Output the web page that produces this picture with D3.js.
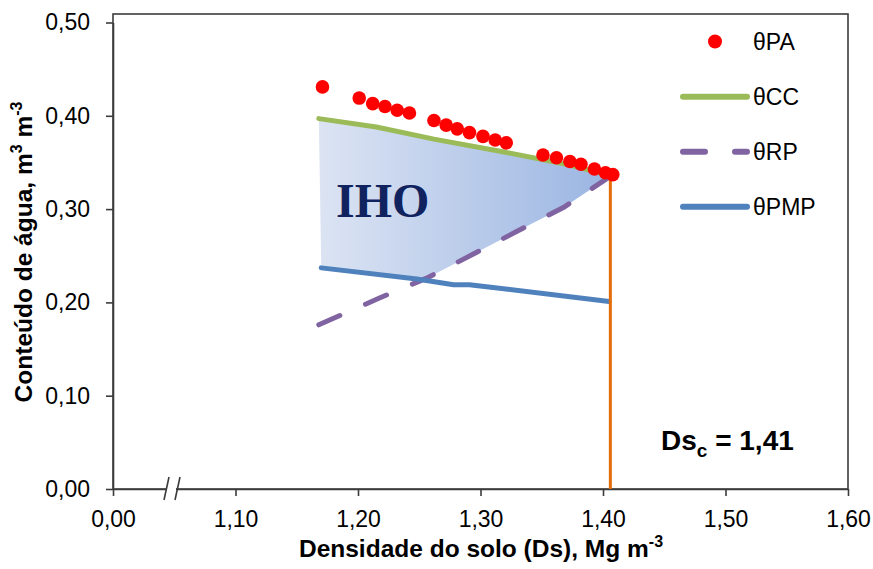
<!DOCTYPE html>
<html>
<head>
<meta charset="utf-8">
<script src="https://cdn.jsdelivr.net/npm/d3@7"></script>
<style>
  html, body { margin: 0; padding: 0; background: #fff; }
  svg { display: block; font-family: "Liberation Sans", Arial, sans-serif; }
</style>
</head>
<body>
<svg id="chart" width="873" height="569"></svg>
<script>
// Soil bulk density (Mg m-3) vs. volumetric water content (m3 m-3)
const paDs  = [1.171, 1.201, 1.212, 1.222, 1.232, 1.242, 1.262, 1.272, 1.281, 1.291, 1.302, 1.312, 1.321, 1.351, 1.362, 1.373, 1.382, 1.393, 1.402, 1.408];
const paVal = [0.431, 0.419, 0.413, 0.410, 0.406, 0.403, 0.395, 0.390, 0.386, 0.382, 0.378, 0.374, 0.371, 0.358, 0.355, 0.351, 0.348, 0.343, 0.339, 0.337];

const ccDs  = [1.168, 1.215, 1.262, 1.316, 1.370, 1.407];
const ccVal = [0.397, 0.388, 0.375, 0.362, 0.348, 0.336];

const rpDs  = [1.168, 1.218, 1.256, 1.293, 1.331, 1.368, 1.408];
const rpVal = [0.176, 0.205, 0.226, 0.251, 0.277, 0.302, 0.337];

const pmpDs  = [1.170, 1.248, 1.278, 1.291, 1.405];
const pmpVal = [0.237, 0.225, 0.219, 0.219, 0.201];

// critical bulk density
const dsc = 1.406;

const xTicks = [1.0, 1.1, 1.2, 1.3, 1.4, 1.5, 1.6];
const xTickLabels = ["0,00", "1,10", "1,20", "1,30", "1,40", "1,50", "1,60"];
const yTicks = [0, 0.1, 0.2, 0.3, 0.4, 0.5];
const yTickLabels = ["0,00", "0,10", "0,20", "0,30", "0,40", "0,50"];

const legendNames = ["θPA", "θCC", "θRP", "θPMP"];

const colors = { pa: "#ff0000", cc: "#9bbb59", rp: "#8064a2", pmp: "#4f81bd", dsc: "#e46c0a" };

const svg = d3.select("#chart");
const plot = { left: 113, right: 848, top: 14, bottom: 489 };

const x = d3.scaleLinear().domain([1.0, 1.6]).range([plot.left, plot.right]);
const y = d3.scaleLinear().domain([0, 0.5]).range([plot.bottom, 22.5]);

const zip = (a, b) => a.map((v, i) => [v, b[i]]);
const cc = zip(ccDs, ccVal), rp = zip(rpDs, rpVal), pmp = zip(pmpDs, pmpVal), pa = zip(paDs, paVal);

// interpolate a polyline at a given x
function at(line, xv) {
  for (let i = 0; i < line.length - 1; i++) {
    const [x0, y0] = line[i], [x1, y1] = line[i + 1];
    if (xv >= x0 && xv <= x1) return y0 + (y1 - y0) * (xv - x0) / (x1 - x0);
  }
  return xv < line[0][0] ? line[0][1] : line[line.length - 1][1];
}
// first crossing of two polylines, scanning from x0 to x1
function crossing(a, b, x0, x1) {
  const n = 2000;
  let prev = at(a, x0) - at(b, x0);
  for (let i = 1; i <= n; i++) {
    const xv = x0 + (x1 - x0) * i / n;
    const d = at(a, xv) - at(b, xv);
    if (Math.sign(d) !== Math.sign(prev)) return [xv, at(a, xv)];
    prev = d;
  }
  return [x1, at(a, x1)];
}

// Least limiting water range (IHO) region: under θCC, above max(θRP, θPMP)
const apex = crossing(cc, rp, 1.3, 1.408);
const low = crossing(rp, pmp, 1.2, 1.3);
const ihoPoly = [
  ...cc.filter(p => p[0] < apex[0]),
  apex,
  ...rp.filter(p => p[0] > low[0] && p[0] < apex[0]).reverse(),
  low,
  ...pmp.filter(p => p[0] < low[0]).reverse()
];

const defs = svg.append("defs");
const grad = defs.append("linearGradient").attr("id", "ihoFill")
  .attr("gradientUnits", "userSpaceOnUse")
  .attr("x1", x(ccDs[0])).attr("x2", x(apex[0])).attr("y1", 0).attr("y2", 0);
grad.append("stop").attr("offset", "0%").attr("stop-color", "#dce4f3");
grad.append("stop").attr("offset", "100%").attr("stop-color", "#9ab5e2");

svg.append("path")
  .attr("d", d3.line().x(d => x(d[0])).y(d => y(d[1]))(ihoPoly) + "Z")
  .attr("fill", "url(#ihoFill)");

svg.append("text")
  .attr("x", 336).attr("y", 217)
  .attr("font-family", "'Liberation Serif', 'Times New Roman', serif")
  .attr("font-weight", "bold").attr("font-size", 48)
  .attr("fill", "#10235f")
  .text("IHO");

// frame and axes
svg.append("rect")
  .attr("x", plot.left).attr("y", plot.top)
  .attr("width", plot.right - plot.left).attr("height", plot.bottom - plot.top)
  .attr("fill", "none").attr("stroke", "#3c3c3c").attr("stroke-width", 1.6);

const xAxis = svg.append("g")
  .attr("transform", `translate(0,${plot.bottom})`)
  .call(d3.axisBottom(x).tickValues(xTicks).tickFormat((d, i) => xTickLabels[i])
    .tickSize(7).tickSizeOuter(0).tickPadding(15));
const yAxis = svg.append("g")
  .attr("transform", `translate(${plot.left},0)`)
  .call(d3.axisLeft(y).tickValues(yTicks).tickFormat((d, i) => yTickLabels[i])
    .tickSize(7).tickSizeOuter(0).tickPadding(16));
[xAxis, yAxis].forEach(g => {
  g.select(".domain").attr("stroke", "#3c3c3c").attr("stroke-width", 1.6);
  g.selectAll(".tick line").attr("stroke", "#3c3c3c").attr("stroke-width", 1.6);
  g.selectAll(".tick text").attr("font-size", 23).attr("fill", "#000")
    .attr("font-family", "'Liberation Sans', Arial, sans-serif");
});

// axis break marks
svg.append("rect").attr("x", 166).attr("y", plot.bottom - 3).attr("width", 10).attr("height", 6).attr("fill", "#fff");
[0, 11].forEach(off => {
  svg.append("line")
    .attr("x1", 164 + off).attr("y1", plot.bottom + 11)
    .attr("x2", 169 + off).attr("y2", plot.bottom - 12)
    .attr("stroke", "#3c3c3c").attr("stroke-width", 1.6);
});

// series lines
const line = d3.line().x(d => x(d[0])).y(d => y(d[1]));
svg.append("path").attr("d", line(cc)).attr("fill", "none")
  .attr("stroke", colors.cc).attr("stroke-width", 5).attr("stroke-linecap", "round").attr("stroke-linejoin", "round");
svg.append("path").attr("d", line(rp)).attr("fill", "none")
  .attr("stroke", colors.rp).attr("stroke-width", 5).attr("stroke-linecap", "round")
  .attr("stroke-dasharray", "23,28");
svg.append("path").attr("d", line(pmp)).attr("fill", "none")
  .attr("stroke", colors.pmp).attr("stroke-width", 5).attr("stroke-linecap", "round").attr("stroke-linejoin", "round");

// critical density marker
svg.append("line")
  .attr("x1", x(dsc)).attr("x2", x(dsc))
  .attr("y1", y(0)).attr("y2", y(paVal[paVal.length - 1]))
  .attr("stroke", colors.dsc).attr("stroke-width", 3);

svg.append("g").selectAll("circle").data(pa).join("circle")
  .attr("cx", d => x(d[0])).attr("cy", d => y(d[1])).attr("r", 6.8)
  .attr("fill", colors.pa);

// Dsc label
const fmt2 = d3.formatLocale({ decimal: ",", thousands: ".", grouping: [3], currency: ["", ""] }).format(".2f");
const dl = svg.append("text").attr("x", 661).attr("y", 450)
  .attr("font-weight", "bold").attr("font-size", 28).attr("fill", "#000");
dl.append("tspan").text("Ds");
dl.append("tspan").attr("font-size", 19).attr("dy", 7).text("c");
dl.append("tspan").attr("dy", -7).text(" = " + fmt2(dsc));

// legend
const lg = svg.append("g");
const rows = [41.5, 96.7, 151.7, 206.7];
lg.append("circle").attr("cx", 715).attr("cy", rows[0]).attr("r", 7).attr("fill", colors.pa);
lg.append("line").attr("x1", 683).attr("x2", 747).attr("y1", rows[1]).attr("y2", rows[1])
  .attr("stroke", colors.cc).attr("stroke-width", 6).attr("stroke-linecap", "round");
lg.append("line").attr("x1", 683).attr("x2", 747).attr("y1", rows[2]).attr("y2", rows[2])
  .attr("stroke", colors.rp).attr("stroke-width", 6).attr("stroke-linecap", "round")
  .attr("stroke-dasharray", "22,30");
lg.append("line").attr("x1", 683).attr("x2", 747).attr("y1", rows[3]).attr("y2", rows[3])
  .attr("stroke", colors.pmp).attr("stroke-width", 6).attr("stroke-linecap", "round");
lg.selectAll("text.lbl").data(legendNames).join("text").attr("class", "lbl")
  .attr("x", 753).attr("y", (d, i) => rows[i]).attr("dy", "0.36em")
  .attr("font-size", 23).attr("fill", "#000").text(d => d);

// axis titles
const xt = svg.append("text").attr("x", 481).attr("y", 557).attr("text-anchor", "middle")
  .attr("font-weight", "bold").attr("font-size", 24.5).attr("fill", "#000");
xt.append("tspan").text("Densidade do solo (Ds), Mg m");
xt.append("tspan").attr("font-size", 16).attr("dy", -10).text("-3");

const yt = svg.append("text").attr("transform", "translate(32,252) rotate(-90)").attr("text-anchor", "middle")
  .attr("font-weight", "bold").attr("font-size", 24.5).attr("fill", "#000");
yt.append("tspan").text("Conteúdo de água, m");
yt.append("tspan").attr("font-size", 16).attr("dy", -10).text("3");
yt.append("tspan").attr("dy", 10).text(" m");
yt.append("tspan").attr("font-size", 16).attr("dy", -10).text("-3");
</script>
</body>
</html>
